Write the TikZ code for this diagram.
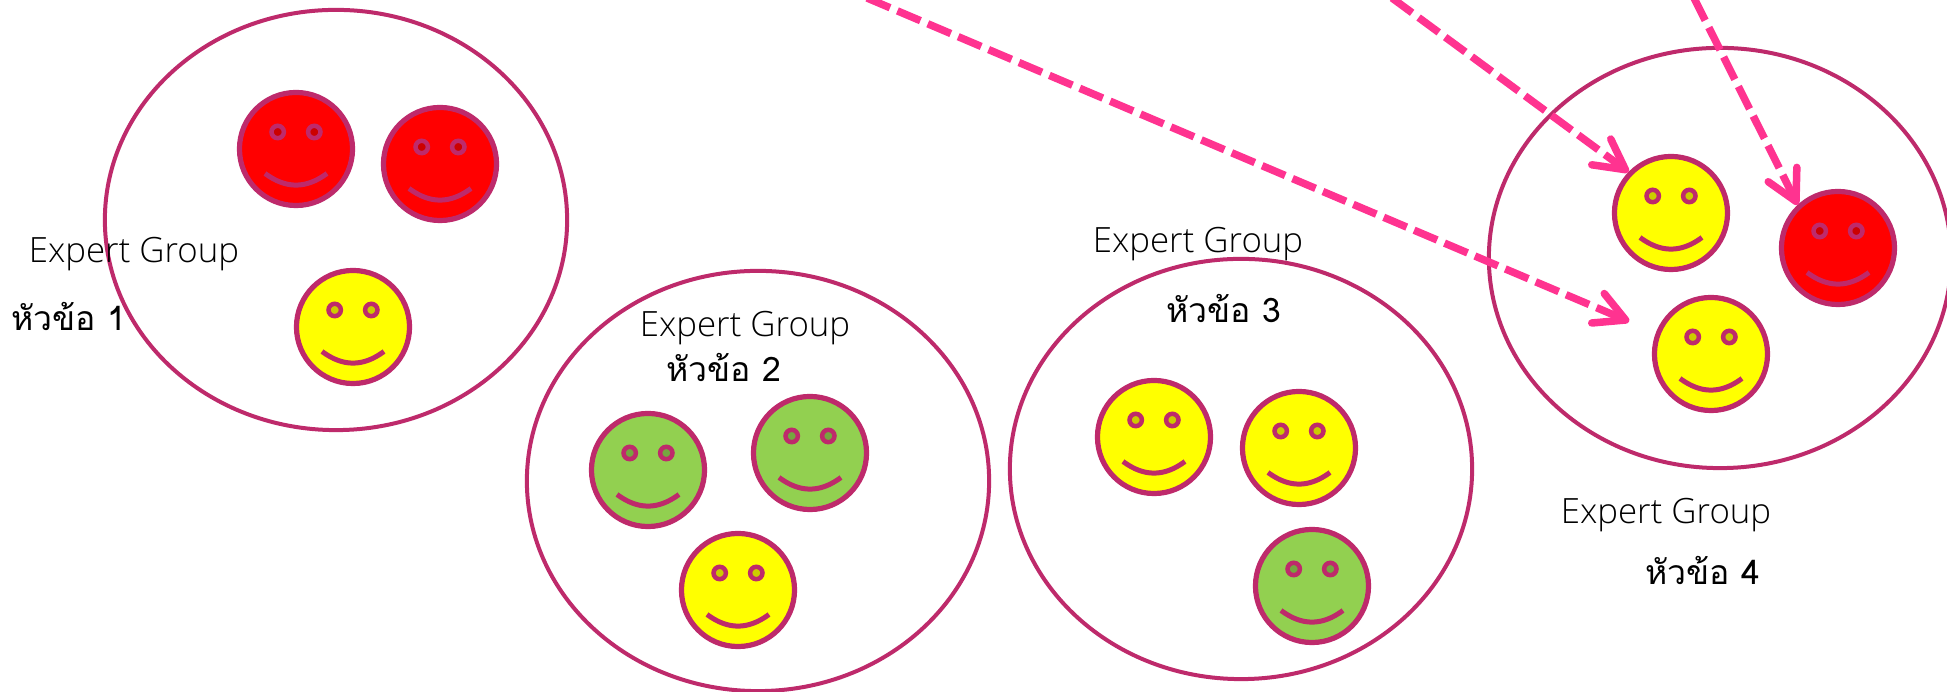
\documentclass[tikz,border=0pt]{standalone}
\usepackage{fontspec}
\usetikzlibrary{arrows.meta,shapes.geometric}
\setmainfont{Open Sans Light}
\newfontfamily\thaifont[Script=Thai]{Loma}
\definecolor{rimcol}{HTML}{BE2A6B}
\definecolor{arrowcol}{HTML}{FF3390}
\definecolor{redcol}{HTML}{FF0000}
\definecolor{yellowcol}{HTML}{FFFF00}
\definecolor{greencol}{HTML}{92D050}
\tikzset{
    groupring/.style={draw=rimcol, ellipse, line width=0.04cm, inner sep=0pt, minimum width=4.62cm, minimum height=4.2cm},
    face/.style={draw=rimcol, circle, line width=0.052cm, inner sep=0pt, minimum size=1.13cm},
    grouplabel/.style={font=\fontsize{9.9}{11}\selectfont},
    topiclabel/.style={font=\fontsize{9.6}{11}\selectfont\thaifont},
    moveline/.style={draw=arrowcol, line width=0.075cm, dash pattern=on 0.25cm off 0.08cm,
        -{Straight Barb[length=0.3cm, width=0.32cm, round]}}
}

\begin{document}
\begin{tikzpicture}[x=0.01cm, y=-0.01cm]
    \useasboundingbox (0, 0) rectangle (1947, 692);
    \clip (0, 0) rectangle (1947, 692);

    % groups
    \foreach \name/\x/\y in {one/336/220, two/758/481, three/1241/469, four/1720/258} {
        \node[groupring] (ring\name) at (\x, \y) {};
    }

    % faces
    \foreach \name/\x/\y/\col in {
        ra/296/149/redcol, rb/440/164/redcol, ya/353/327/yellowcol,
        ga/648/470/greencol, gb/810/453/greencol, yb/738/590/yellowcol,
        yc/1154/437/yellowcol, yd/1299/448/yellowcol, gc/1312/586/greencol,
        ye/1671/213/yellowcol, rc/1838/248/redcol, yf/1711/354/yellowcol} {
        \node[face, fill=\col] (\name) at (\x, \y) {};
        \begin{scope}[shift={(\x, \y)}]
            \draw[rimcol, line width=0.045cm, fill=\col!80!black] (-18.3, -17) circle (6.2);
            \draw[rimcol, line width=0.045cm, fill=\col!80!black] (18.3, -17) circle (6.2);
            \draw[rimcol, line width=0.05cm] (-31, 24.5) .. controls (-10, 40) and (10, 40) .. (31, 24.5);
        \end{scope}
    }

    % texts
    \node[grouplabel] (groupa) at (134, 254) {Expert Group};
    \node[topiclabel] (topica) at (69, 317) {หัวข้อ 1};
    \node[grouplabel] (groupb) at (745, 328) {Expert Group};
    \node[topiclabel] (topicb) at (724, 368) {หัวข้อ 2};
    \node[grouplabel] (groupc) at (1198, 244) {Expert Group};
    \node[topiclabel] (topicc) at (1224, 309) {หัวข้อ 3};
    \node[grouplabel] (groupd) at (1666, 515) {Expert Group};
    \node[topiclabel] (topicd) at (1703, 570) {หัวข้อ 4};

    % moves into the last group
    \coordinate (froma) at (867, -2);
    \coordinate (fromb) at (1392, -2);
    \coordinate (fromc) at (1694, -2);
    \draw[moveline, shorten >=0.29cm] (froma) -- (yf.159);
    \draw[moveline] (fromb) -- (ye.136);
    \draw[moveline] (fromc) -- (rc.133);
\end{tikzpicture}
\end{document}
